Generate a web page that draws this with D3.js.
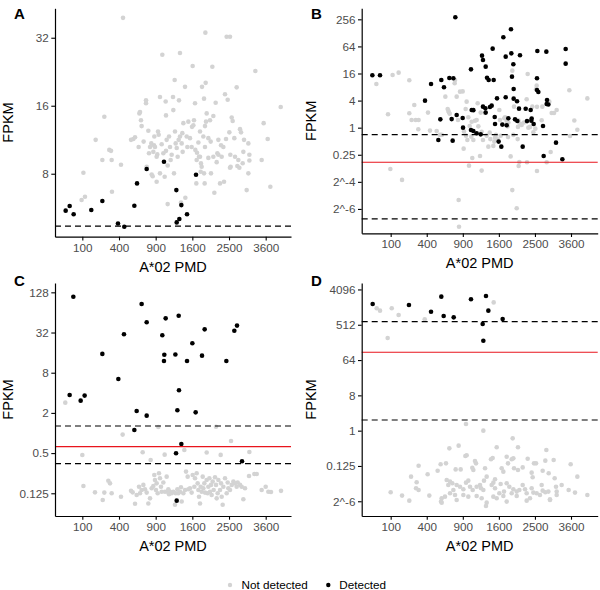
<!DOCTYPE html>
<html><head><meta charset="utf-8">
<script src="https://cdn.jsdelivr.net/npm/d3@7"></script>
<style>body{margin:0;background:#fff}svg{display:block}text{font-family:"Liberation Sans",Arial,Helvetica,sans-serif}</style>
</head><body><svg id="chart" width="600" height="590"></svg>
<script>
// ---------- data ----------
const xTicks = [100, 400, 900, 1600, 2500, 3600];
const legendLabels = ["Not detected", "Detected"];

// Panel A  [A*02 PMD, FPKM]
const aNotDetected = [[96,6.12],[115,6.33],[106,8.08],[186,11.3],[256,14.3],[239,9.2],[301,10.2],[318,10.1],[324,9.2],[327,6.66],[422,8.77],[445,39.2],[542,11.3],[572,11.4],[594,11.6],[643,10.5],[653,14.8],[662,15.0],[676,13.8],[685,13.0],[714,11.1],[749,16.9],[749,16.4],[759,8.59],[784,12.4],[794,9.85],[810,10.5],[830,10.9],[836,7.94],[852,7.8],[873,10.7],[889,10.5],[878,11.7],[916,7.37],[927,9.74],[939,12.3],[950,11.9],[972,17.5],[972,8.03],[1001,10.8],[1012,26.9],[1030,9.85],[1053,7.76],[1071,16.7],[1077,14.5],[1089,11.3],[1107,5.87],[1132,11.7],[1150,10.5],[1162,9.2],[1206,17.5],[1212,15.3],[1225,8.03],[1238,20.8],[1257,10.9],[1277,10.4],[1296,9.51],[1316,11.3],[1322,16.9],[1342,27.4],[1342,11.7],[1362,5.97],[1389,12.1],[1396,10.0],[1410,13.4],[1444,19.4],[1451,6.26],[1493,10.5],[1514,13.6],[1549,11.5],[1593,12.9],[1607,24.0],[1622,13.1],[1636,13.8],[1659,16.4],[1666,10.2],[1688,7.25],[1703,9.9],[1734,11.0],[1749,9.51],[1772,12.3],[1787,8.16],[1794,8.89],[1810,8.59],[1818,19.4],[1849,11.7],[1865,17.2],[1888,13.0],[1897,33.7],[1904,20.2],[1912,13.6],[1928,14.8],[1865,8.03],[1880,7.25],[1968,9.4],[2009,13.8],[2025,11.1],[2033,8.03],[2066,23.8],[2091,14.4],[2116,6.59],[2149,16.5],[2175,9.0],[2192,9.85],[2218,9.7],[2261,7.25],[2287,10.7],[2304,9.51],[2366,7.37],[2392,18.0],[2419,11.4],[2436,32.3],[2527,32.3],[2464,17.0],[2509,12.2],[2536,9.7],[2545,8.59],[2574,14.2],[2601,13.7],[2647,11.5],[2713,19.3],[2732,8.66],[2761,9.2],[2790,8.5],[2809,12.6],[2838,12.2],[2887,8.9],[2926,11.3],[3005,6.77],[3055,10.9],[3086,9.7],[3086,9.15],[3270,22.8],[3470,9.2],[3534,13.4],[3666,11.4],[3754,7.01],[4108,15.8],[862,10.0],[916,9.51],[1077,10.1],[1107,8.7],[1181,9.7],[1244,12.3],[1376,10.9],[1479,11.7],[1585,10.5],[1696,9.2],[1772,9.51],[1888,10.5],[1968,11.5],[2091,9.51],[2218,11.3],[2348,10.5],[2527,8.5],[2667,9.51],[2906,10.0],[3055,8.03]];
const aDetected = [[29.8,5.49],[42.9,5.76],[58.3,5.29],[155,5.53],[239,6.06],[389,4.82],[460,4.66],[585,5.77],[621,7.25],[759,8.39],[1041,9.04],[1270,6.77],[1277,4.87],[1329,5.04],[1369,5.81],[1486,5.29],[1681,7.92]];
const aDashed = [4.69];
const aRed = [];

// Panel B
const bNotDetected = [[36.4,9.36],[85.8,1.98],[98.2,0.121],[111,14.8],[149,16.7],[173,0.069],[230,11.3],[230,2.09],[250,1.48],[287,1.48],[315,1.48],[312,0.92],[274,3.2],[414,2.16],[437,0.86],[518,0.84],[561,0.69],[583,0.69],[633,4.89],[675,2.39],[685,2.2],[695,2.04],[666,2.6],[775,11.5],[770,9.69],[801,4.89],[822,1.48],[832,0.0247],[838,0.0063],[854,6.32],[898,6.4],[948,2.6],[954,0.665],[914,0.342],[920,0.817],[965,3.79],[977,0.533],[1006,0.143],[1018,1.09],[1048,0.632],[1065,0.212],[1114,1.43],[1145,1.48],[1164,3.48],[1209,0.235],[1222,2.16],[1241,0.111],[1267,0.533],[1308,2.12],[1341,0.665],[1375,0.379],[1403,0.776],[1416,0.557],[1480,0.393],[1501,0.49],[1516,0.6],[1537,0.69],[1574,0.55],[1610,2.47],[1640,0.66],[1724,1.62],[1739,1.7],[1778,1.41],[1801,1.07],[1817,1.3],[1809,0.62],[1872,0.23],[1912,18.5],[1912,0.041],[1937,0.69],[1954,2.93],[2020,0.0162],[2061,1.46],[2044,0.557],[2052,1.04],[2069,0.141],[2086,0.173],[2103,1.23],[2145,1.15],[2206,1.3],[2276,4.27],[2285,0.17],[2303,15.6],[2321,1.0],[2365,1.04],[2428,2.93],[2456,0.79],[2511,0.95],[2548,8.59],[2530,7.1],[2557,2.9],[2557,0.109],[2690,1.46],[2709,2.93],[2836,0.17],[2915,3.79],[2955,0.288],[2986,2.12],[3057,2.12],[3139,2.47],[3545,6.77],[3567,0.654],[3711,1.44],[3814,0.9],[4164,4.47],[994,1.7],[1054,1.35],[1177,1.07],[1241,0.81],[1084,0.533],[1625,1.48]];
const bDetected = [[24.2,14.6],[49.6,14.6],[381,3.99],[449,9.36],[539,0.533],[565,1.53],[578,11.5],[614,7.89],[690,12.7],[750,12.5],[724,1.55],[739,0.515],[801,1.92],[780,284],[898,1.64],[904,1.0],[1041,19.8],[1054,2.47],[1084,2.45],[1041,0.89],[1084,0.845],[1145,0.75],[1222,0.71],[1248,39.9],[1267,32.0],[1321,22.7],[1267,2.93],[1314,2.69],[1321,2.16],[1348,12.9],[1382,11.5],[1487,11.5],[1409,2.89],[1444,3.09],[1465,57.1],[1509,1.73],[1516,1.21],[1559,4.49],[1595,0.49],[1655,0.379],[1678,1.17],[1701,102],[1755,4.73],[1755,37.9],[1778,1.13],[1817,1.62],[1880,154],[1888,44.9],[1904,13.6],[1937,25.6],[1945,7.25],[1945,4.42],[1978,1.53],[2036,1.41],[2028,3.86],[2103,40.6],[2172,0.379],[2078,2.65],[2250,2.63],[2285,1.4],[2383,2.47],[2401,1.43],[2410,1.6],[2465,1.21],[2557,12.5],[2567,50.6],[2557,6.88],[2595,6.22],[2729,1.09],[2748,0.235],[2826,49.0],[2846,4.13],[2836,3.36],[2886,3.27],[3118,0.465],[3318,0.198],[3425,56.1],[3425,26.5]];
const bDashed = [0.70, 0.0094];
const bRed = [0.17];

// Panel C
const cNotDetected = [[28.7,2.85],[441,0.946],[100,0.469],[700,0.514],[820,0.395],[944,1.23],[1053,0.474],[1430,0.557],[1928,0.51],[2158,1.24],[2278,0.47],[2555,0.76],[3086,0.52],[106,0.161],[181,0.129],[242,0.099],[256,0.128],[292,0.193],[308,0.176],[324,0.125],[422,0.111],[542,0.136],[563,0.129],[594,0.087],[616,0.118],[648,0.157],[662,0.125],[685,0.14],[710,0.167],[734,0.144],[759,0.128],[784,0.088],[810,0.105],[836,0.149],[862,0.161],[878,0.235],[889,0.198],[905,0.14],[916,0.176],[933,0.125],[955,0.249],[972,0.21],[989,0.157],[1001,0.132],[1030,0.181],[1059,0.132],[1089,0.222],[1107,0.132],[1119,0.144],[1132,0.121],[1150,0.132],[1181,0.125],[1212,0.132],[1244,0.084],[1257,0.125],[1290,0.144],[1309,0.125],[1342,0.132],[1362,0.154],[1376,0.094],[1410,0.125],[1444,0.14],[1465,0.264],[1500,0.222],[1514,0.144],[1549,0.149],[1585,0.128],[1607,0.235],[1644,0.157],[1659,0.21],[1696,0.249],[1718,0.176],[1734,0.14],[1749,0.111],[1772,0.088],[1787,0.157],[1810,0.132],[1834,0.222],[1849,0.149],[1872,0.176],[1888,0.128],[1928,0.198],[1952,0.125],[1968,0.157],[1993,0.21],[2009,0.132],[2033,0.167],[2049,0.118],[2075,0.187],[2099,0.14],[2133,0.217],[2158,0.167],[2175,0.105],[2200,0.125],[2218,0.198],[2261,0.14],[2287,0.176],[2304,0.111],[2330,0.084],[2348,0.157],[2392,0.21],[2437,0.125],[2464,0.181],[2482,0.149],[2527,0.14],[2574,0.167],[2620,0.187],[2667,0.176],[2713,0.157],[2742,0.181],[2809,0.167],[2857,0.157],[2906,0.102],[2955,0.149],[3075,0.227],[3239,0.243],[3312,0.243],[3470,0.14],[3600,0.157],[3688,0.132],[3776,0.131],[4119,0.136]];
const cDetected = [[57,110],[42.8,3.71],[91.2,3.05],[113,3.63],[239,15.3],[393,6.45],[456,30.1],[585,1.11],[616,2.14],[685,85.6],[759,45.5],[759,1.82],[1012,29.1],[1041,12.0],[1047,14.9],[1071,52.2],[1251,15.0],[1264,0.497],[1277,0.097],[1290,2.19],[1316,57.2],[1322,4.36],[1369,0.685],[1486,12.0],[1600,22.1],[1673,2.04],[1818,14.4],[1880,35.7],[2428,12.0],[2647,34.1],[2723,40.6],[2867,0.377]];
const cDashed = [1.27, 0.348];
const cRed = [0.625];

// Panel D
const dNotDetected = [[37.5,1350],[49.6,1176],[106,1350],[84,235],[149,910],[378,704],[1487,1910],[954,1.48],[1274,1.0],[1921,0.636],[690,0.353],[832,0.413],[1552,0.375],[2052,0.375],[2826,0.32],[943,0.225],[965,0.234],[315,0.127],[569,0.138],[642,0.146],[1114,0.168],[1133,0.146],[1430,0.185],[1465,0.2],[1778,0.216],[1809,0.146],[1897,0.185],[1937,0.196],[1954,0.109],[2052,0.0986],[2172,0.115],[2303,0.192],[2474,0.146],[2530,0.146],[2796,0.171],[3046,0.178],[3589,0.138],[245,0.0666],[410,0.0765],[530,0.0947],[785,0.102],[865,0.102],[1065,0.113],[1084,0.0986],[1308,0.109],[1341,0.0666],[1516,0.057],[1663,0.109],[1701,0.0894],[2410,0.0843],[2437,0.0641],[2719,0.0947],[2896,0.0811],[3077,0.0604],[3814,0.0666],[296,0.0477],[290,0.0335],[315,0.0304],[652,0.0548],[700,0.0496],[734,0.045],[675,0.0408],[801,0.0408],[854,0.0369],[994,0.0526],[954,0.0468],[909,0.0316],[1024,0.0369],[1072,0.0304],[1145,0.0369],[1209,0.0408],[1229,0.0335],[1274,0.0304],[1287,0.0526],[1444,0.0408],[1480,0.0468],[1516,0.0335],[1640,0.0432],[1610,0.025],[1716,0.0276],[1778,0.045],[1840,0.0369],[1897,0.025],[1937,0.0316],[2020,0.0276],[2086,0.0304],[2172,0.0408],[2233,0.0316],[2276,0.025],[2410,0.0335],[2456,0.026],[2548,0.025],[2690,0.0408],[2719,0.0292],[2796,0.0265],[2886,0.0276],[2935,0.0168],[3118,0.0369],[3139,0.0276],[3296,0.0408],[3522,0.0304],[3734,0.026],[4164,0.0226],[100,0.0265],[173,0.0218],[230,0.0162],[429,0.0218],[583,0.0186],[574,0.0153],[628,0.0205],[700,0.025],[801,0.0168],[909,0.0226],[994,0.0205],[1145,0.0213],[1241,0.0186],[1341,0.0144],[1480,0.0205],[1552,0.0186],[1701,0.0213],[1778,0.0153],[2020,0.0213],[2276,0.0162],[2365,0.0186],[2642,0.0226],[2935,0.0175],[3139,0.0226],[750,0.0304],[775,0.0226],[1327,0.0118],[583,0.0144]];
const dDetected = [[25.1,1737],[227,1640],[449,1106],[578,2680],[610,858],[755,793],[1041,2290],[1261,536],[1274,200],[1327,2780],[1375,1176],[1685,719]];
const dDashed = [614, 1.87];
const dRed = [101];

// y-axis ticks and their labels
const aYTicks = [8, 16, 32];
const aYLabels = ["8", "16", "32"];
const bYTicks = [1/64, 1/16, 0.25, 1, 4, 16, 64, 256];
const bYLabels = ["2^-6", "2^-4", "0.25", "1", "4", "16", "64", "256"];
const cYTicks = [0.125, 0.5, 2, 8, 32, 128];
const cYLabels = ["0.125", "0.5", "2", "8", "32", "128"];
const dYTicks = [1/64, 0.125, 1, 8, 64, 512, 4096];
const dYLabels = ["2^-6", "0.125", "1", "8", "64", "512", "4096"];

// ---------- layout ----------
const panels = [
  {label:"A", box:{l:55, r:291, t:8.3, b:236.7}, xDom:[6.5,4476], yDom:[4.21,43.2], yTicks:aYTicks, yLabels:aYLabels, not:aNotDetected, det:aDetected, dashed:aDashed, red:aRed, lab:[14,19], ytx:12.5},
  {label:"B", box:{l:361.7, r:597.7, t:8.3, b:233.3}, xDom:[3.87,4543], yDom:[0.00449,450], yTicks:bYTicks, yLabels:bYLabels, not:bNotDetected, det:bDetected, dashed:bDashed, red:bRed, lab:[311,19], ytx:316},
  {label:"C", box:{l:55, r:291, t:283, b:516}, xDom:[6.5,4476], yDom:[0.0571,176.6], yTicks:cYTicks, yLabels:cYLabels, not:cNotDetected, det:cDetected, dashed:cDashed, red:cRed, lab:[14,286], ytx:12.5},
  {label:"D", box:{l:361.7, r:597.7, t:283, b:516}, xDom:[3.87,4543], yDom:[0.00656,5990], yTicks:dYTicks, yLabels:dYLabels, not:dNotDetected, det:dDetected, dashed:dDashed, red:dRed, lab:[311,286], ytx:316}
];

const svg = d3.select("#chart");
const GRAY = "#d3d3d3", TICKC = "#4d4d4d", FS = 11.7;

panels.forEach(p => {
  const B = p.box;
  const x = d3.scaleSqrt().domain(p.xDom).range([B.l, B.r]);
  const y = d3.scaleLog().base(2).domain(p.yDom).range([B.b, B.t]);
  const g = svg.append("g");

  const pts = g.append("g");
  pts.selectAll("circle.n").data(p.not).join("circle").attr("class","n")
    .attr("cx", d => x(d[0])).attr("cy", d => y(d[1])).attr("r", 2.3).attr("fill", GRAY);
  pts.selectAll("circle.d").data(p.det).join("circle").attr("class","d")
    .attr("cx", d => x(d[0])).attr("cy", d => y(d[1])).attr("r", 2.3).attr("fill", "#000");

  g.selectAll("line.dash").data(p.dashed).join("line").attr("class","dash")
    .attr("x1", B.l).attr("x2", B.r).attr("y1", d => y(d)).attr("y2", d => y(d))
    .attr("stroke", "#000").attr("stroke-width", 1.1).attr("stroke-dasharray", "6,4");
  g.selectAll("line.red").data(p.red).join("line").attr("class","red")
    .attr("x1", B.l).attr("x2", B.r).attr("y1", d => y(d)).attr("y2", d => y(d))
    .attr("stroke", "#e8141c").attr("stroke-width", 1.1);

  const xa = g.append("g").attr("transform", `translate(0,${B.b})`)
    .call(d3.axisBottom(x).tickValues(xTicks).tickFormat(d3.format("d")).tickSize(3.7).tickSizeOuter(0).tickPadding(3));
  const ya = g.append("g").attr("transform", `translate(${B.l},0)`)
    .call(d3.axisLeft(y).tickValues(p.yTicks).tickFormat((d,i) => p.yLabels[i]).tickSize(3.7).tickSizeOuter(0).tickPadding(2.5));
  [xa, ya].forEach(a => {
    a.select(".domain").attr("stroke", "#000").attr("stroke-width", 1.2);
    a.selectAll(".tick line").attr("stroke", "#000").attr("stroke-width", 1.1);
    a.selectAll(".tick text").attr("fill", TICKC).style("font-size", FS + "px")
      .style("font-family", '"Liberation Sans",Arial,sans-serif');
  });

  g.append("text").attr("x", (B.l + B.r) / 2).attr("y", B.b + 35).attr("text-anchor", "middle")
    .style("font-size", "14.5px").attr("fill", "#000").text("A*02 PMD");
  g.append("text").attr("transform", `translate(${p.ytx},${(B.t + B.b) / 2}) rotate(-90)`)
    .attr("text-anchor", "middle").style("font-size", "14.5px").attr("fill", "#000").text("FPKM");
  g.append("text").attr("x", p.lab[0]).attr("y", p.lab[1]).style("font-size", "15px")
    .style("font-weight", "bold").attr("fill", "#000").text(p.label);
});

// legend
const leg = svg.append("g");
const legendItems = [{t:legendLabels[0], c:GRAY, cx:230, tx:241.5}, {t:legendLabels[1], c:"#000", cx:328.3, tx:339.3}];
leg.selectAll("circle").data(legendItems).join("circle")
  .attr("cx", d => d.cx).attr("cy", 585).attr("r", 2.2).attr("fill", d => d.c);
leg.selectAll("text").data(legendItems).join("text")
  .attr("x", d => d.tx).attr("y", 589.2).style("font-size", FS + "px").attr("fill", "#000").text(d => d.t);
</script></body></html>
